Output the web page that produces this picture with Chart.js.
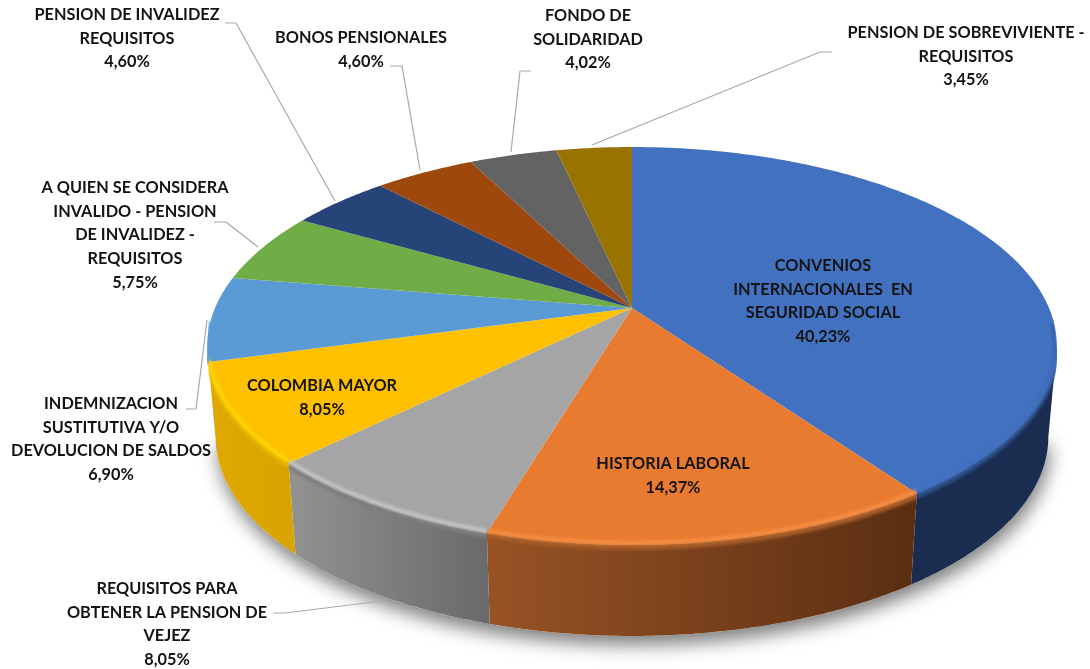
<!DOCTYPE html>
<html><head><meta charset="utf-8">
<style>html,body{margin:0;padding:0;background:#fff}canvas{display:block}</style>
<script src="https://cdn.jsdelivr.net/npm/chart.js@4"></script>
</head><body><canvas id="c" width="1090" height="669"></canvas>
<script>
const categories = [
  ["CONVENIOS","INTERNACIONALES  EN","SEGURIDAD SOCIAL"],
  ["HISTORIA LABORAL"],
  ["REQUISITOS PARA","OBTENER LA PENSION DE","VEJEZ"],
  ["COLOMBIA MAYOR"],
  ["INDEMNIZACION","SUSTITUTIVA Y/O","DEVOLUCION DE SALDOS"],
  ["A QUIEN SE CONSIDERA","INVALIDO - PENSION","DE INVALIDEZ -","REQUISITOS"],
  ["PENSION DE INVALIDEZ","REQUISITOS"],
  ["BONOS PENSIONALES"],
  ["FONDO DE","SOLIDARIDAD"],
  ["PENSION DE SOBREVIVIENTE -","REQUISITOS"]
];
const values = [40.23,14.37,8.05,8.05,6.90,5.75,4.60,4.60,4.02,3.45];
const colors = ["#4271C0","#E97B30","#A5A5A5","#FFC000","#5B9BD5","#70AD47","#264478","#9E480E","#636363","#997300"];
const wallLeft  = ["#1A2D50","#985325","#929292","#E0A900","#3C6A94","#4A7530","#18294A","#6A300A","#444","#665000"];
const wallRight = ["#1A2D50","#5A2E12","#6A6A6A","#D8A400","#3C6A94","#4A7530","#18294A","#6A300A","#444","#665000"];
const rimColors = ["#4271C0","#F58F45","#C6C6C6","#FFD800","#6FB0E8","#70AD47","#264478","#9E480E","#636363","#997300"];
const seamColors = ["#2E4F88","#A65C28","#7C7C7C","#E8B400","#4A80B0","#5A8C3A","#1F3860","#803A0B","#505050","#7C5D00"];
const labelCentres = [[823,266],[673,464],[167,589],[322,386],[111,404],[135,188],[127,15],[361,38],[588,16],[966,33]];
const leaders = [null,null,
  [[273,613],[285,613],[382,601]],
  null,
  [[186,409],[196,409],[207,320]],
  [[214,222],[226,222],[258,247]],
  [[225,23],[236,23],[335,201]],
  [[390,66],[402,66],[420,170]],
  [[531,71],[520,71],[511,152]],
  [[832,52],[820,52],[592,145]]
];
const LINE = 23.6, FONT = 'bold 16.3px Lato, "Open Sans", sans-serif';

const geo = {cx:632, cy:308, R:417, Ry:191.7, k:0.191, depth:91, shrink:0.98};
function topPt(a){
  const X=Math.cos(a),Y=Math.sin(a),w=1-geo.k*Y;
  return [geo.cx+geo.R*X/w, geo.cy+geo.Ry*Y/w];
}
function botPt(a){
  const p=topPt(a);
  return [geo.cx+(p[0]-geo.cx)*geo.shrink, p[1]+geo.depth];
}
function samples(a0,a1){
  const n=Math.max(2,Math.ceil((a1-a0)/0.01)),o=[];
  for(let i=0;i<=n;i++)o.push(a0+(a1-a0)*i/n);
  return o;
}
function strokeEdge(ctx,s,e,dy,color,width,blur){
  ctx.filter='blur('+blur+'px)';
  ctx.strokeStyle=color;ctx.lineWidth=width;
  ctx.beginPath();
  samples(s,e).forEach((a,j)=>{const p=topPt(a);j?ctx.lineTo(p[0],p[1]+dy):ctx.moveTo(p[0],p[1]+dy);});
  ctx.stroke();
}
const pie3d = {
  id:'pie3d',
  beforeDatasetsDraw(chart){
    const ctx=chart.ctx, arcs=chart.getDatasetMeta(0).data;
    const ar=Math.asin(geo.k), al=Math.PI-ar;
    // soft shadow under the disc
    ctx.save();
    ctx.shadowColor='rgba(0,0,0,.5)';ctx.shadowBlur=18;ctx.shadowOffsetY=9;ctx.shadowOffsetX=2;
    ctx.fillStyle='#fff';ctx.beginPath();
    samples(ar,al).forEach((a,i)=>{const p=botPt(a);i?ctx.lineTo(p[0],p[1]):ctx.moveTo(p[0],p[1]);});
    ctx.closePath();ctx.fill();ctx.restore();
    // walls
    arcs.forEach((arc,i)=>{
      const s=Math.max(arc.startAngle,ar),e=Math.min(arc.endAngle,al);
      if(e<=s)return;
      const as=samples(s,e);
      const g=ctx.createLinearGradient(topPt(e)[0],0,topPt(s)[0],0);
      g.addColorStop(0,wallLeft[i]);g.addColorStop(1,wallRight[i]);
      ctx.fillStyle=g;ctx.beginPath();
      as.forEach((a,j)=>{const p=topPt(a);j?ctx.lineTo(p[0],p[1]):ctx.moveTo(p[0],p[1]);});
      as.slice().reverse().forEach(a=>{const p=botPt(a);ctx.lineTo(p[0],p[1]);});
      ctx.closePath();ctx.fill();
    });
    // top face
    arcs.forEach(arc=>{
      ctx.fillStyle=arc.options.backgroundColor;
      ctx.beginPath();ctx.moveTo(geo.cx,geo.cy);
      samples(arc.startAngle,arc.endAngle).forEach(a=>{const p=topPt(a);ctx.lineTo(p[0],p[1]);});
      ctx.closePath();ctx.fill();
    });
    // bevel along the front edge
    ctx.save();
    ctx.lineCap='butt';
    arcs.forEach((arc,i)=>{
      const s=Math.max(arc.startAngle,ar*0.4),e=Math.min(arc.endAngle,Math.PI-ar*0.4);
      if(e<=s)return;
      ctx.save();
      ctx.beginPath();
      ctx.moveTo(topPt(s)[0],topPt(s)[1]-60);
      samples(s,e).forEach(a=>{const p=topPt(a);ctx.lineTo(p[0],p[1]+12);});
      ctx.lineTo(topPt(e)[0],topPt(e)[1]-60);
      ctx.lineTo(geo.cx,geo.cy);
      ctx.closePath();
      ctx.clip();
      strokeEdge(ctx,s,e,2.5,seamColors[i],5,1.8);
      strokeEdge(ctx,s,e,-2,rimColors[i],4,1.6);
      ctx.restore();
    });
    ctx.restore();
    return false;
  },
  afterDraw(chart){
    const ctx=chart.ctx;
    ctx.save();
    ctx.strokeStyle='#A8A8A8';ctx.lineWidth=1.2;ctx.lineJoin='round';
    leaders.forEach(l=>{
      if(!l)return;
      ctx.beginPath();
      l.forEach((p,i)=>i?ctx.lineTo(p[0],p[1]):ctx.moveTo(p[0],p[1]));
      ctx.stroke();
    });
    ctx.font=FONT;ctx.fillStyle='#141414';ctx.textAlign='center';ctx.textBaseline='middle';
    ctx.filter='blur(0.35px)';
    chart.data.labels.forEach((lines,i)=>{
      const [x,y]=labelCentres[i];
      const all=lines.concat(values[i].toFixed(2).replace('.',',')+'%');
      all.forEach((t,j)=>ctx.fillText(t,x,y+j*LINE));
    });
    ctx.restore();
  }
};
new Chart(document.getElementById('c'),{
  type:'pie',
  data:{labels:categories,datasets:[{data:values,backgroundColor:colors,borderWidth:0}]},
  options:{responsive:false,animation:false,rotation:0,
    plugins:{legend:{display:false},tooltip:{enabled:false},title:{display:false}}},
  plugins:[pie3d]
});
</script></body></html>
